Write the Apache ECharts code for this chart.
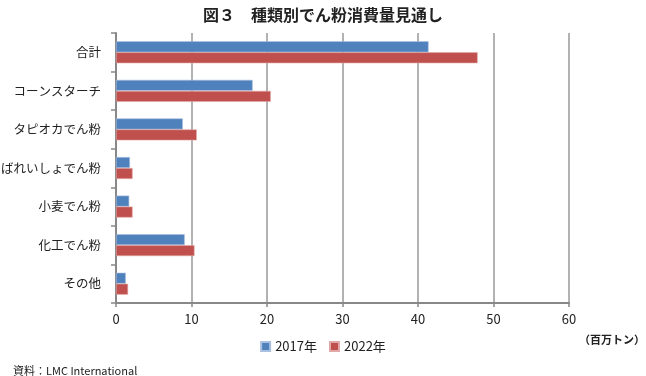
<!DOCTYPE html>
<html>
<head>
<meta charset="utf-8">
<script src="https://cdn.jsdelivr.net/npm/echarts@6/dist/echarts.min.js"></script>
<style>
  html, body { margin: 0; padding: 0; background: #fff; }
  #chart { width: 646px; height: 376px; }
</style>
</head>
<body>
<div id="chart"></div>
<script>
const categories = ["合計", "コーンスターチ", "タピオカでん粉", "ばれいしょでん粉", "小麦でん粉", "化工でん粉", "その他"];
const values2017 = [41.4, 18.1, 8.85, 1.85, 1.75, 9.1, 1.3];
const values2022 = [47.9, 20.5, 10.7, 2.2, 2.2, 10.4, 1.6];
const seriesNames = ["2017年", "2022年"];

const font = '"Noto Sans CJK JP", "Noto Sans", sans-serif';
const chart = echarts.init(document.getElementById("chart"));

chart.setOption({
  backgroundColor: "#fff",
  animation: false,
  textStyle: { fontFamily: font },
  title: [
    {
      text: "図３　種類別でん粉消費量見通し",
      left: "center",
      top: 2,
      textStyle: { fontSize: 16, fontWeight: "bold", color: "#222", fontFamily: font },
    },
    {
      text: "（百万トン）",
      right: -4,
      top: 329,
      textStyle: { fontSize: 11, fontWeight: "bold", color: "#222", fontFamily: font },
    },
    {
      text: "資料：LMC International",
      left: 8,
      top: 360,
      textStyle: { fontSize: 11, fontWeight: "normal", color: "#222", fontFamily: font },
    },
  ],
  legend: {
    data: seriesNames,
    bottom: 18,
    left: "center",
    itemWidth: 9,
    itemHeight: 9,
    itemGap: 12,
    icon: "rect",
    textStyle: { fontSize: 13, color: "#222", fontFamily: font },
  },
  grid: {
    left: 116,
    right: 77,
    top: 33,
    bottom: 73,
    outerBoundsMode: "none",
  },
  xAxis: {
    type: "value",
    min: 0,
    max: 60,
    interval: 10,
    axisLine: { show: true, lineStyle: { color: "#888", width: 2 } },
    axisTick: { show: true, length: 4, lineStyle: { color: "#888", width: 1.5 } },
    axisLabel: { color: "#222", fontSize: 13, margin: 10 },
    splitLine: { show: true, lineStyle: { color: "#999", width: 1.5 } },
  },
  yAxis: {
    type: "category",
    data: categories,
    inverse: true,
    axisLine: { show: true, lineStyle: { color: "#888", width: 2 } },
    axisTick: { show: true, length: 5, lineStyle: { color: "#888", width: 1.5 } },
    axisLabel: { color: "#222", fontSize: 12.5, margin: 15 },
  },
  series: [
    {
      name: seriesNames[0],
      type: "bar",
      data: values2017,
      barGap: "0%",
      barCategoryGap: "43%",
      itemStyle: { color: "#4f81bd", borderColor: "#a9c0e0", borderWidth: 0.6 },
    },
    {
      name: seriesNames[1],
      type: "bar",
      data: values2022,
      itemStyle: { color: "#c0504d", borderColor: "#e0a8a6", borderWidth: 0.6 },
    },
  ],
});
</script>
</body>
</html>
